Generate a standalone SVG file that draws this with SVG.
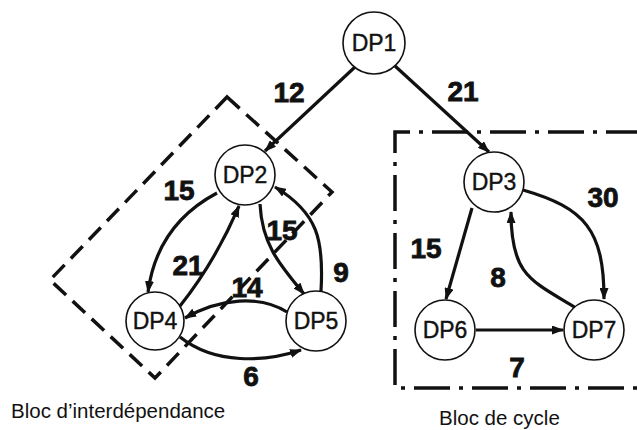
<svg xmlns="http://www.w3.org/2000/svg" width="637" height="430" viewBox="0 0 637 430">
<defs>
<style>
.node circle{fill:#fff;stroke:#111;stroke-width:1.6}
.node text{font-family:"Liberation Sans",Arial,sans-serif;font-size:23px;text-anchor:middle;fill:#111;stroke:#111;stroke-width:0.4}
.edge{fill:none;stroke:#111;stroke-width:3.2;marker-end:url(#ah)}
.lbl{font-family:"Liberation Sans",Arial,sans-serif;font-weight:bold;font-size:28px;text-anchor:middle;fill:#111;stroke:#111;stroke-width:0.8}
.cap{font-family:"Liberation Sans",Arial,sans-serif;font-size:20.5px;fill:#111}
.blk{fill:none;stroke:#111;stroke-width:3.5}
</style>
<marker id="ah" viewBox="0 0 12 9" refX="11" refY="4.5" markerWidth="12" markerHeight="9" markerUnits="userSpaceOnUse" orient="auto">
<path d="M0,0 L12,4.5 L0,9 z" fill="#111"/>
</marker>
</defs>
<g id="blocks">
<polygon class="blk" points="227,97 332,192 155,378 50,280" stroke-dasharray="17 9"/>
<path class="blk" d="M642,132 H395 V388 H642" stroke-width="4" stroke-dasharray="36 9 4 9"/>
</g>
<g id="connectors">
<path class="edge" d="M355,67 L265,151"/>
<path class="edge" d="M395,66 L489,152"/>
<path class="edge" d="M217,193 C185,210 155,240 148,292"/>
<path class="edge" d="M180,306 Q215,262 239,206"/>
<path class="edge" d="M260,204 C262,245 280,265 304,294"/>
<path class="edge" d="M321,291 C324,240 318,213 275,187"/>
<path class="edge" d="M287,312 C260,295 220,298 185,318"/>
<path class="edge" d="M180,337 C215,365 265,362 301,350"/>
<path class="edge" d="M472,208 L446,299"/>
<path class="edge" d="M523,190 C585,208 604,230 604,299"/>
<path class="edge" d="M576,308 C530,280 511,275 511,212"/>
<path class="edge" d="M476,330 L563,330"/>
</g>
<g id="DP1" class="node"><circle cx="374" cy="43" r="31"/><text x="374" y="51">DP1</text></g>
<g id="DP2" class="node"><circle cx="245" cy="175" r="30"/><text x="245" y="183">DP2</text></g>
<g id="DP3" class="node"><circle cx="494" cy="182" r="30"/><text x="494" y="190">DP3</text></g>
<g id="DP4" class="node"><circle cx="155" cy="321" r="29"/><text x="155" y="329">DP4</text></g>
<g id="DP5" class="node"><circle cx="316" cy="321" r="30"/><text x="316" y="329">DP5</text></g>
<g id="DP6" class="node"><circle cx="445" cy="330" r="30"/><text x="445" y="338">DP6</text></g>
<g id="DP7" class="node"><circle cx="594" cy="330" r="30"/><text x="594" y="338">DP7</text></g>
<g id="labels">
<text class="lbl" x="289" y="102">12</text>
<text class="lbl" x="463" y="101">21</text>
<text class="lbl" x="179" y="200">15</text>
<text class="lbl" x="188" y="275">21</text>
<text class="lbl" x="282" y="240">15</text>
<text class="lbl" x="247" y="297">14</text>
<text class="lbl" x="341" y="282">9</text>
<text class="lbl" x="251" y="386">6</text>
<text class="lbl" x="426" y="258">15</text>
<text class="lbl" x="603" y="207">30</text>
<text class="lbl" x="498" y="287">8</text>
<text class="lbl" x="517" y="377">7</text>
<text class="cap" x="11" y="418">Bloc d’interdépendance</text>
<text class="cap" x="439" y="425">Bloc de cycle</text>
</g>
</svg>
